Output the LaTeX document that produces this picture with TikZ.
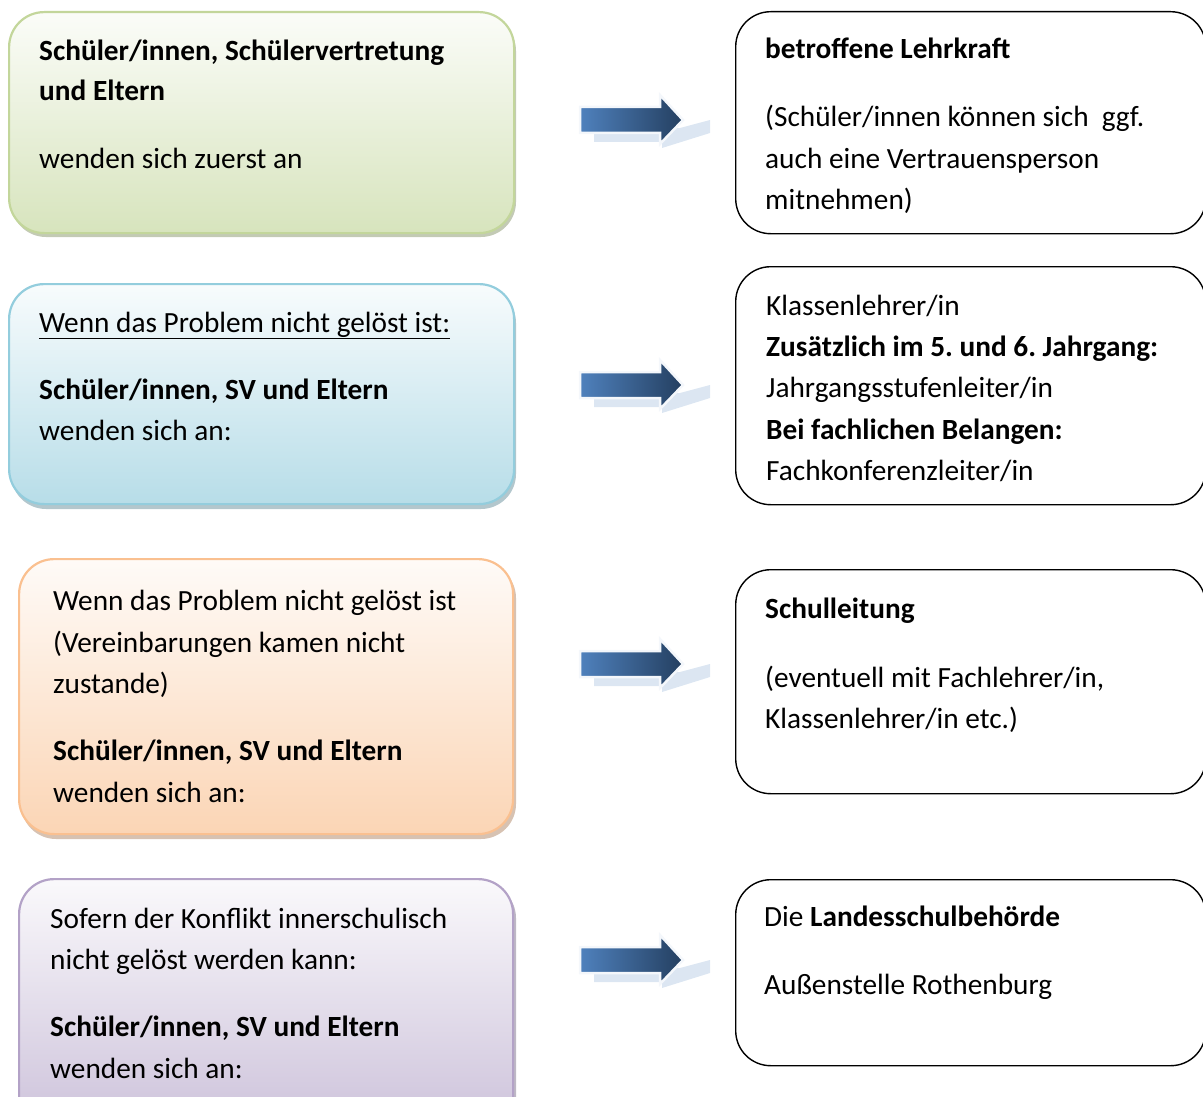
\documentclass[tikz,border=0pt]{standalone}
\usepackage{fontspec}
\setmainfont{Carlito}
\usetikzlibrary{calc}
\frenchspacing
\definecolor{gB}{HTML}{C3D69B}\definecolor{gF}{HTML}{D7E4BD}
\definecolor{bB}{HTML}{93CDDD}\definecolor{bF}{HTML}{B7DDE8}
\definecolor{oB}{HTML}{FAC090}\definecolor{oF}{HTML}{FBD5B5}
\definecolor{pB}{HTML}{B3A2C7}\definecolor{pF}{HTML}{CCC1DA}
\definecolor{arL}{HTML}{4F81BD}\definecolor{arR}{HTML}{243F60}
\definecolor{arS}{HTML}{DCE6F2}
\tikzset{
  lbox/.style n args={2}{draw=#1, line width=2.2pt, rounded corners=35pt,
     top color=#2!10, bottom color=#2, anchor=north west, inner sep=0pt},
  lshadow/.style={fill=#1!70!black, opacity=0.5, rounded corners=35pt},
  rbox/.style={draw=black, line width=1.4pt, rounded corners=35pt, fill=white,
     anchor=north west, inner sep=0pt},
  txt/.style={anchor=base west, inner sep=0pt, font=\fontsize{29.3}{41}\selectfont},
  arrowbody/.style={left color=arL, right color=arR, draw=white!94!arL, line width=2.5pt},
  arrowshadow/.style={fill=arS}
}
\newcommand{\blockarrow}[1]{%
  \begin{scope}[shift={(#1)}]
    \fill[arrowshadow] (14,22) -- (82,22) -- (82,28) -- (130,13) -- (130,0) -- (100,8) -- (14,13) -- cycle;
    \path[arrowbody] (0,-13) -- (80,-13) -- (80,-25) -- (103,0) -- (80,24) -- (80,13) -- (0,13) -- cycle;
  \end{scope}}
\begin{document}
\begin{tikzpicture}[x=1pt,y=-1pt]
\useasboundingbox (0,0) rectangle (1203,1097);
\clip (0,0) rectangle (1203,1097);
% left boxes shadows
\fill[lshadow=gB] (11,16) rectangle (516,237);
\fill[lshadow=bB] (11,288) rectangle (516,509);
\fill[lshadow=oB] (21,563) rectangle (516,839);
\fill[lshadow=pB] (21,883) rectangle (516,1140);
% left boxes
\node[lbox={gB}{gF}, minimum width=505pt, minimum height=221pt] (L1) at (8,11) {};
\node[lbox={bB}{bF}, minimum width=505pt, minimum height=220pt] (L2) at (8,283) {};
\node[lbox={oB}{oF}, minimum width=494pt, minimum height=275pt] (L3) at (18,558) {};
\node[lbox={pB}{pF}, minimum width=494pt, minimum height=255pt] (L4) at (18,878) {};
% right boxes
\node[rbox, minimum width=470pt, minimum height=222pt] (R1) at (735,11) {};
\node[rbox, minimum width=470pt, minimum height=238pt] (R2) at (735,266) {};
\node[rbox, minimum width=470pt, minimum height=224pt] (R3) at (735,569) {};
\node[rbox, minimum width=470pt, minimum height=186pt] (R4) at (735,879) {};
% arrows
\coordinate (A1) at (580,120);
\coordinate (A2) at (580,385);
\coordinate (A3) at (580,664);
\coordinate (A4) at (580,960);
\blockarrow{A1}\blockarrow{A2}\blockarrow{A3}\blockarrow{A4}
% texts left
\node[txt] (t11) at (39,61) {\bfseries Schüler/innen, Schülervertretung};
\node[txt] (t12) at (39,101) {\bfseries und Eltern};
\node[txt] (t13) at (39,168) {wenden sich zuerst an};
\node[txt] (t21) at (39,332) {\underline{Wenn das Problem nicht gelöst ist:}};
\node[txt] (t22) at (39,399) {\bfseries Schüler/innen, SV und Eltern};
\node[txt] (t23) at (39,440) {wenden sich an:};
\node[txt] (t31) at (53,610) {Wenn das Problem nicht gelöst ist};
\node[txt] (t32) at (53,652) {(Vereinbarungen kamen nicht};
\node[txt] (t33) at (53,693) {zustande)};
\node[txt] (t34) at (53,760) {\bfseries Schüler/innen, SV und Eltern};
\node[txt] (t35) at (53,802) {wenden sich an:};
\node[txt] (t41) at (50,928) {Sofern der Konflikt innerschulisch};
\node[txt] (t42) at (50,969) {nicht gelöst werden kann:};
\node[txt] (t43) at (50,1036) {\bfseries Schüler/innen, SV und Eltern};
\node[txt] (t44) at (50,1078) {wenden sich an:};
% texts right
\node[txt] (r11) at (765,59) {\bfseries betroffene Lehrkraft};
\node[txt] (r12) at (765,127) {(Schüler/innen können sich \ ggf.};
\node[txt] (r13) at (765,169) {auch eine Vertrauensperson};
\node[txt] (r14) at (765,210) {mitnehmen)};
\node[txt] (r21) at (766,315) {Klassenlehrer/in};
\node[txt] (r22) at (766,356) {\bfseries Zusätzlich im 5. und 6. Jahrgang:};
\node[txt] (r23) at (766,397) {Jahrgangsstufenleiter/in};
\node[txt] (r24) at (766,439) {\bfseries Bei fachlichen Belangen:};
\node[txt] (r25) at (766,480) {Fachkonferenzleiter/in};
\node[txt] (r31) at (765,618) {\bfseries Schulleitung};
\node[txt] (r32) at (765,687) {(eventuell mit Fachlehrer/in,};
\node[txt] (r33) at (765,728) {Klassenlehrer/in etc.)};
\node[txt] (r41) at (764,926) {Die \textbf{Landesschulbehörde}};
\node[txt] (r42) at (764,994) {Außenstelle Rothenburg};
\end{tikzpicture}
\end{document}
